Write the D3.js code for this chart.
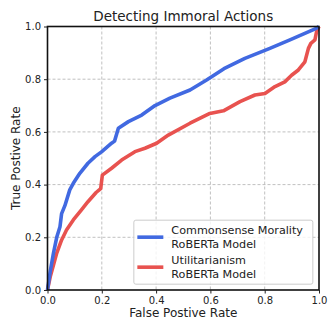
<!DOCTYPE html>
<meta charset="utf-8">
<style>
body, html { margin: 0; background: #fff; }
text { font-family: "DejaVu Sans", sans-serif; fill: #222; }
.grid line { stroke: #b0b0b0; stroke-dasharray: 3,2; stroke-width: 0.8; }
.axis path { display: none; }
.axis line { stroke: #222; }
.axis text { font-size: 10px; }
</style>
<svg></svg>
<script src="https://d3js.org/d3.v7.min.js"></script>
<script>

// Commonsense Morality RoBERTa ROC curve
var cmFpr = [0, 0.01, 0.022, 0.034, 0.046, 0.052, 0.064, 0.082, 0.095, 0.119, 0.149, 0.175, 0.2, 0.236, 0.247, 0.261, 0.298, 0.347, 0.396, 0.451, 0.525, 0.586, 0.65, 0.727, 0.819, 0.893, 0.99, 1];
var cmTpr = [0, 0.07, 0.14, 0.20, 0.24, 0.29, 0.32, 0.38, 0.405, 0.443, 0.481, 0.506, 0.525, 0.557, 0.565, 0.614, 0.639, 0.664, 0.70, 0.728, 0.759, 0.797, 0.84, 0.879, 0.917, 0.949, 0.993, 1];

// Utilitarianism RoBERTa ROC curve
var utFpr = [0, 0.01, 0.022, 0.034, 0.052, 0.07, 0.095, 0.125, 0.149, 0.179, 0.196, 0.202, 0.236, 0.273, 0.322, 0.359, 0.402, 0.445, 0.525, 0.598, 0.648, 0.709, 0.764, 0.801, 0.838, 0.874, 0.899, 0.924, 0.948, 0.961, 0.97, 0.985, 0.991, 1];
var utTpr = [0, 0.05, 0.095, 0.14, 0.19, 0.228, 0.266, 0.304, 0.335, 0.37, 0.385, 0.436, 0.462, 0.493, 0.525, 0.538, 0.557, 0.588, 0.633, 0.670, 0.680, 0.715, 0.74, 0.746, 0.772, 0.79, 0.815, 0.835, 0.866, 0.917, 0.936, 0.949, 0.98, 1];

var ticks = [0, 0.2, 0.4, 0.6, 0.8, 1.0];
var seriesNames = [["Commonsense Morality", "RoBERTa Model"], ["Utilitarianism", "RoBERTa Model"]];
var colors = ["#4169e1", "#e8524f"];

var W = 336, H = 328;
var margin = {top: 26.5, right: 17, bottom: 38, left: 47.5};
var width = W - margin.left - margin.right;
var height = H - margin.top - margin.bottom;

var svg = d3.select('svg').attr('width', W).attr('height', H);
var g = svg.append('g').attr('transform', 'translate(' + margin.left + ',' + margin.top + ')');

var x = d3.scaleLinear().domain([0, 1]).range([0, width]);
var y = d3.scaleLinear().domain([0, 1]).range([height, 0]);

// grid
g.append('g').attr('class', 'grid').selectAll('line').data(ticks.slice(1, -1)).enter().append('line')
  .attr('x1', d => x(d)).attr('x2', d => x(d)).attr('y1', 0).attr('y2', height);
g.append('g').attr('class', 'grid').selectAll('line').data(ticks.slice(1, -1)).enter().append('line')
  .attr('y1', d => y(d)).attr('y2', d => y(d)).attr('x1', 0).attr('x2', width);

var line = d3.line().x(d => x(d[0])).y(d => y(d[1]));

var series = [d3.zip(cmFpr, cmTpr), d3.zip(utFpr, utTpr)];
// red first so blue sits on top
[1, 0].forEach(function (i) {
  g.append('path').datum(series[i]).attr('d', line)
    .attr('fill', 'none').attr('stroke', colors[i]).attr('stroke-width', 3.6)
    .attr('stroke-linejoin', 'round');
});

// frame
g.append('rect').attr('width', width).attr('height', height)
  .attr('fill', 'none').attr('stroke', '#111').attr('stroke-width', 1.6);

g.append('g').attr('class', 'axis').attr('transform', 'translate(0,' + height + ')')
  .call(d3.axisBottom(x).tickValues(ticks).tickFormat(d3.format('.1f')).tickSize(3.5).tickPadding(3));
g.append('g').attr('class', 'axis')
  .call(d3.axisLeft(y).tickValues(ticks).tickFormat(d3.format('.1f')).tickSize(3.5).tickPadding(3));

// titles
svg.append('text').attr('x', margin.left + width / 2).attr('y', 20.5).attr('text-anchor', 'middle')
  .style('font-size', '13.5px').text('Detecting Immoral Actions');
svg.append('text').attr('x', margin.left + width / 2).attr('y', 317).attr('text-anchor', 'middle')
  .style('font-size', '12px').text('False Postive Rate');
svg.append('text').attr('transform', 'translate(20,' + (margin.top + height / 2) + ') rotate(-90)')
  .attr('text-anchor', 'middle').style('font-size', '12px').text('True Postive Rate');

// legend
var lg = g.append('g').attr('transform', 'translate(' + (x(0.318)) + ',' + (y(0.265)) + ')');
lg.append('rect').attr('width', 179).attr('height', 64).attr('rx', 2)
  .attr('fill', 'white').attr('fill-opacity', 0.8).attr('stroke', '#ccc');
seriesNames.forEach(function (nm, i) {
  var yy = 17 + i * 30;
  lg.append('line').attr('x1', 3.5).attr('x2', 29.5).attr('y1', yy).attr('y2', yy)
    .attr('stroke', colors[i]).attr('stroke-width', 3.6);
  lg.append('text').attr('x', 37.5).attr('y', yy - 2.8).style('font-size', '11.2px').text(nm[0]);
  lg.append('text').attr('x', 37.5).attr('y', yy + 10.4).style('font-size', '11.2px').text(nm[1]);
});

</script>
